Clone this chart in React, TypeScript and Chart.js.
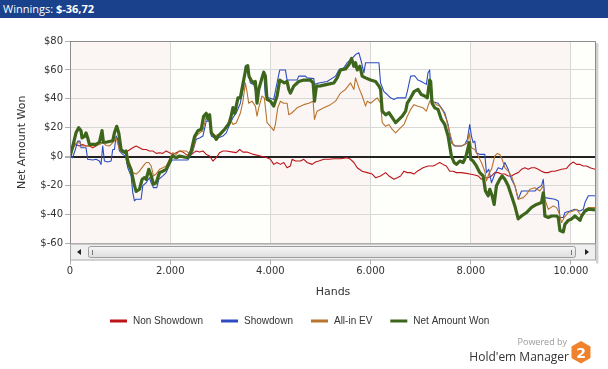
import React, { useEffect, useRef } from "react";
import { Chart, registerables } from "chart.js";

Chart.register(...registerables);

// ---------- DATA ----------
const xTickValues = [0, 2000, 4000, 6000, 8000, 10000];
const yTickValues = [-60, -40, -20, 0, 20, 40, 60, 80];
const handsMax = 10500;
const winningsText = "$-36,72";

const nonShowdownHands = [0, 53, 120, 187, 253, 320, 387, 453, 520, 587, 653, 720, 787, 853, 887, 953, 1020, 1087, 1153, 1253, 1320, 1387, 1453, 1520, 1587, 1653, 1720, 1787, 1853, 1920, 1987, 2053, 2120, 2187, 2253, 2320, 2387, 2453, 2520, 2587, 2653, 2720, 2787, 2853, 2920, 2987, 3053, 3120, 3253, 3320, 3387, 3453, 3533, 3667, 3800, 3933, 4000, 4067, 4133, 4200, 4267, 4333, 4400, 4433, 4500, 4600, 4667, 4733, 4833, 4900, 4967, 5067, 5167, 5267, 5400, 5533, 5600, 5667, 5733, 5833, 5933, 6033, 6100, 6200, 6300, 6367, 6467, 6533, 6600, 6667, 6733, 6800, 6867, 6933, 7000, 7047, 7147, 7247, 7313, 7380, 7447, 7513, 7580, 7647, 7713, 7813, 7913, 7980, 8080, 8147, 8213, 8280, 8347, 8413, 8480, 8547, 8613, 8680, 8747, 8813, 8880, 8947, 9013, 9080, 9147, 9213, 9280, 9347, 9413, 9480, 9547, 9613, 9680, 9813, 9913, 9980, 10047, 10113, 10180, 10247, 10313, 10380, 10480];
const nonShowdownValues = [0, 7.4, 8.5, 7.4, 8.5, 7.4, 7.4, 6.2, 7.4, 9.7, 9.7, 10, 10.8, 10.8, 13, 12, 5, 2.8, 4, 6.2, 7.4, 6.2, 5, 5, 4, 4, 2.3, 2.8, 2.3, 4, 2.8, 1.6, 2.8, 4, 3.2, 1.6, 0.5, 2.3, 4, 3.2, 4, 1.6, 0.5, -3, -0.7, 2.8, 4, 4, 3.2, 2.8, 5, 3.2, 3.2, 1.6, 0.5, -0.7, -1.8, -5.3, -4, -5.3, -4, -7.6, -6.4, -1.8, -3, -3, -1.8, -4, -5.3, -3.7, -3, -1.8, -1.8, -1.4, -1.4, -0.7, -1.8, -4, -7.6, -10, -11, -12, -14.5, -13.3, -11, -13.3, -15.6, -14.5, -13.3, -10, -11, -11, -12, -10, -8.7, -7.6, -6.4, -6.4, -5.3, -4, -5.3, -6.4, -10, -10, -11, -11, -11.5, -12, -12.7, -13.3, -15.6, -14.5, -14.5, -13.3, -11, -11, -12, -12, -13.3, -13.3, -12, -11, -8.7, -7.6, -8.7, -7.6, -7.6, -8.7, -10, -11, -11, -10, -10, -8.7, -8.1, -5.3, -3.7, -5.3, -5.3, -6.4, -6.4, -7.6, -8.7];

const showdownHands = [0, 53, 107, 153, 200, 220, 320, 353, 453, 520, 587, 620, 653, 687, 753, 820, 853, 887, 920, 953, 987, 1053, 1107, 1153, 1220, 1253, 1287, 1320, 1420, 1453, 1520, 1587, 1620, 1667, 1733, 1773, 1853, 1920, 1987, 2040, 2187, 2353, 2400, 2453, 2520, 2587, 2653, 2720, 2787, 2820, 2887, 2953, 3053, 3120, 3187, 3253, 3320, 3400, 3467, 3500, 3547, 3600, 3667, 3733, 3800, 3867, 3900, 3967, 4067, 4133, 4187, 4300, 4333, 4533, 4567, 4700, 4733, 4867, 4880, 4967, 5133, 5300, 5367, 5467, 5533, 5633, 5700, 5767, 5813, 5867, 5900, 6167, 6200, 6267, 6333, 6400, 6467, 6533, 6700, 6733, 6800, 6880, 6947, 7013, 7113, 7147, 7180, 7213, 7347, 7413, 7480, 7547, 7613, 7680, 7813, 7880, 7933, 7980, 8013, 8047, 8080, 8113, 8180, 8280, 8313, 8360, 8413, 8480, 8547, 8627, 8680, 8747, 8813, 8880, 8947, 9013, 9280, 9347, 9413, 9447, 9480, 9680, 9747, 9780, 9847, 9880, 9980, 10080, 10180, 10247, 10280, 10347, 10480];
const showdownValues = [0, -0.7, 5, 10.8, 10.8, 6.2, 6.2, -1.8, -2.3, -1.8, -3, -5.3, 7.4, -3, -3.7, -3, 5, 5, 14.3, 12, 4, 1.6, 0.5, -7.6, -13.3, -24.8, -30.6, -29.4, -29.4, -20, -18, -14.5, -18, -21.4, -21.4, -15.6, -13.3, -11, -5.3, -2.3, -2.3, -2.3, 0.5, 4, 12, 13, 14.3, 24.6, 24.6, 14.3, 13, 13, 14.3, 16.5, 22.3, 27, 30.4, 37, 48.8, 62.5, 60, 51, 50, 42, 50, 58, 42, 40.7, 39.6, 51, 60, 60, 53, 53, 55.7, 55.7, 54.5, 54, 50, 51, 52, 55.7, 60, 61.4, 65, 68, 70.6, 71.8, 66, 58, 65, 65, 51, 45, 43, 40.7, 39.6, 40.7, 40.7, 45, 55.7, 56, 53, 52, 50, 58, 60, 38.4, 37, 33.8, 30.4, 22.3, 9.7, 7.4, 7.4, 8.5, 12, 22.3, 14.3, 9.7, 10.8, 2.8, 1.6, 1.6, -11, -8.7, -18, -12, -7.6, -8.7, -4, -8.7, -15.6, -20, -29.4, -23.7, -23.7, -21.4, -20, -15.6, -28.3, -29.4, -30.6, -42, -42, -38.6, -37.5, -36.3, -37.5, -36.3, -31.7, -27, -27];

const allInEvHands = [0, 53, 120, 187, 253, 387, 520, 587, 653, 720, 787, 853, 920, 987, 1053, 1120, 1187, 1253, 1320, 1387, 1487, 1520, 1573, 1620, 1667, 1720, 1787, 1853, 1920, 1987, 2053, 2120, 2187, 2320, 2400, 2453, 2520, 2587, 2653, 2720, 2787, 2820, 2887, 2953, 3020, 3120, 3187, 3253, 3320, 3400, 3453, 3500, 3533, 3567, 3633, 3700, 3733, 3767, 3833, 3880, 3933, 4000, 4067, 4100, 4147, 4200, 4267, 4333, 4367, 4433, 4533, 4667, 4767, 4853, 4880, 4933, 5067, 5200, 5300, 5400, 5500, 5600, 5667, 5700, 5767, 5833, 5900, 5933, 6000, 6133, 6200, 6233, 6300, 6367, 6433, 6500, 6567, 6667, 6733, 6800, 6867, 6933, 7047, 7113, 7180, 7247, 7313, 7380, 7447, 7513, 7580, 7647, 7713, 7813, 7880, 7933, 7967, 8013, 8080, 8147, 8213, 8280, 8313, 8360, 8413, 8480, 8533, 8580, 8627, 8680, 8747, 8813, 8880, 8947, 9047, 9113, 9180, 9280, 9380, 9447, 9480, 9547, 9647, 9713, 9760, 9813, 9867, 9947, 10047, 10113, 10180, 10247, 10293, 10347, 10480];
const allInEvValues = [0, 5, 9.7, 9.7, 7.4, 7.4, 7.8, 8.5, 9.7, 7.8, 7.4, 9.7, 13, 5, 2.8, 4, -4, -11, -12, -10, -5.3, -4, -4, -6.4, -13.3, -12, -8.7, -7.6, -6.4, -1.8, 2.8, 1.6, 4, 4, 1.6, 4, 14.3, 16.5, 18, 28, 25.8, 18, 14.3, 15.4, 16.5, 20, 27, 22.3, 23.5, 30, 38.4, 51, 45, 37, 38.4, 35, 28, 33.8, 42, 40.7, 23.5, 21, 18, 22.3, 33.8, 38.4, 37, 37, 29, 30.4, 33.8, 36, 37, 38.4, 25.8, 31.5, 33.8, 36, 38.4, 44, 46.5, 51, 46.5, 54.5, 47.6, 42, 35, 38.4, 37, 40.7, 37, 23.5, 21, 22.3, 18.9, 16.5, 18.9, 22.3, 28, 32.7, 36, 35, 33.8, 31.5, 38.4, 38.4, 36, 35, 31.5, 25.8, 16.5, 8.5, 7.4, 7.4, 8.5, 9.7, 16.5, 6.2, 5, 0.5, -4, -10, -16.8, -12, -8.7, 0.5, 2.3, 1.6, -1.8, -7.6, -10, -13.3, -20, -29.4, -28.3, -26, -22.5, -21.4, -23.7, -20, -29.4, -36.3, -34, -35.2, -38.6, -45.5, -42, -38.6, -37.5, -36.3, -39.8, -39.8, -36.3, -35.2, -35.2];

const netWonHands = [0, 53, 120, 173, 220, 240, 287, 320, 353, 387, 520, 587, 640, 667, 720, 853, 887, 933, 973, 1020, 1087, 1120, 1153, 1220, 1287, 1320, 1387, 1440, 1487, 1520, 1573, 1620, 1667, 1720, 1787, 1853, 1920, 1987, 2020, 2053, 2120, 2187, 2253, 2353, 2420, 2487, 2553, 2620, 2667, 2720, 2753, 2787, 2820, 2887, 2920, 2953, 3020, 3087, 3187, 3253, 3287, 3353, 3400, 3467, 3520, 3547, 3573, 3613, 3667, 3700, 3733, 3767, 3833, 3867, 3900, 3933, 4000, 4067, 4133, 4187, 4233, 4280, 4333, 4367, 4400, 4467, 4567, 4667, 4800, 4853, 4880, 4920, 5000, 5133, 5267, 5333, 5400, 5500, 5567, 5620, 5667, 5700, 5733, 5787, 5833, 5900, 6000, 6100, 6167, 6200, 6233, 6300, 6367, 6433, 6500, 6567, 6633, 6700, 6733, 6800, 6867, 6947, 7013, 7080, 7133, 7180, 7200, 7227, 7280, 7347, 7413, 7480, 7547, 7613, 7667, 7713, 7780, 7847, 7880, 7913, 7947, 7967, 8000, 8047, 8113, 8180, 8247, 8293, 8347, 8380, 8427, 8467, 8513, 8580, 8627, 8680, 8747, 8813, 8880, 8947, 9013, 9113, 9213, 9313, 9413, 9447, 9480, 9547, 9613, 9713, 9747, 9780, 9847, 9880, 9947, 10013, 10080, 10147, 10180, 10213, 10280, 10347, 10480];
const netWonValues = [0, 7, 16.5, 20, 18, 13, 14, 16.5, 13, 8.5, 8.5, 10, 18, 10, 10, 11, 16.5, 21, 16.5, 5, 3, 4, -4, -9, -20, -24, -22.5, -15.6, -14.5, -15.6, -8.7, -13, -19, -18, -11, -10, -8.7, -4, -0.7, 0.5, -0.7, 0.5, 0, -0.7, 4, 14, 18, 19, 28, 30, 26, 29, 16.5, 14, 12, 14, 16.5, 19, 23.5, 34, 30, 40.7, 40.7, 53, 62.5, 63, 55.7, 53, 51, 52, 37, 46.5, 54.5, 58.4, 55.7, 39.6, 38.4, 35, 41.9, 53, 52, 51, 52, 46.5, 44, 48.8, 52, 53, 53, 51, 38.4, 48.8, 49, 50, 51, 54.5, 60, 60.7, 63.7, 68, 62.5, 65, 60, 62.5, 55.7, 54.5, 53, 52, 48.8, 46.5, 31.5, 29, 30.4, 27, 23.5, 25.8, 28, 31.5, 37, 40.7, 45, 46.5, 43, 42, 40.7, 53, 52, 37, 33.8, 32.7, 25.8, 22.3, 14.3, 0.5, -4, -5.3, -3, -4, -1.8, 1.6, 6.2, 9.7, -1.8, -3, -6.4, -11, -13.3, -23.7, -27, -22.5, -27, -33, -20, -15.6, -13.3, -15.6, -20, -27, -34, -43, -41, -38.6, -35, -33, -31.7, -25, -41, -42, -41, -41, -42, -51, -52, -46.7, -44, -43, -41, -43, -44, -41, -37.5, -36.3, -36.7];

const seriesLabels = ["Non Showdown", "Showdown", "All-in EV", "Net Amount Won"];
const seriesColors = ["#bc1419", "#2b4dc0", "#b8732f", "#3d661c"];

// ---------- HELPERS ----------
const toPoints = (hands: number[], values: number[]) =>
  hands.map((h, i) => ({ x: h, y: values[i] }));

const fmtHands = (v: number) =>
  v >= 1000 ? `${Math.floor(v / 1000)}.${String(v % 1000).padStart(3, "0")}` : String(v);

const bandsPlugin = {
  id: "bands",
  beforeDraw(chart: any) {
    const { ctx, chartArea, scales } = chart;
    const x = scales.x;
    const edges = [...xTickValues, x.max];
    ctx.save();
    for (let i = 0; i < edges.length - 1; i++) {
      const x0 = x.getPixelForValue(edges[i]);
      const x1 = x.getPixelForValue(edges[i + 1]);
      ctx.fillStyle = i % 2 === 0 ? "#fbf6f4" : "#fefefa";
      ctx.fillRect(x0, chartArea.top, x1 - x0, chartArea.bottom - chartArea.top);
    }
    ctx.restore();
  },
};

const framePlugin = {
  id: "frame",
  afterDraw(chart: any) {
    const { ctx, chartArea } = chart;
    const { left, top, right, bottom } = chartArea;
    ctx.save();
    // shadow on the right
    ctx.fillStyle = "rgba(0,0,0,0.18)";
    ctx.fillRect(right, top + 2, 2, bottom - top + 18);
    ctx.fillStyle = "rgba(0,0,0,0.08)";
    ctx.fillRect(right + 2, top + 3, 1, bottom - top + 17);
    // frame
    ctx.strokeStyle = "#8c8c8c";
    ctx.lineWidth = 1;
    ctx.strokeRect(left + 0.5, top + 0.5, right - left - 1, bottom - top);
    // scrollbar
    const sy = bottom + 0.5;
    const sh = 16;
    ctx.fillStyle = "#efefef";
    ctx.fillRect(left, sy, right - left, sh);
    ctx.strokeStyle = "#a8a8a8";
    ctx.strokeRect(left + 0.5, sy, right - left - 1, sh);
    // left arrow
    ctx.fillStyle = "#222";
    ctx.beginPath();
    ctx.moveTo(left + 7, sy + 8);
    ctx.lineTo(left + 11, sy + 5);
    ctx.lineTo(left + 11, sy + 11);
    ctx.closePath();
    ctx.fill();
    // right arrow
    ctx.beginPath();
    ctx.moveTo(right - 11, sy + 5);
    ctx.lineTo(right - 11, sy + 11);
    ctx.lineTo(right - 7, sy + 8);
    ctx.closePath();
    ctx.fill();
    // thumb
    const tx0 = left + 18.5;
    const tx1 = right - 20.5;
    const g = ctx.createLinearGradient(0, sy + 2, 0, sy + 14);
    g.addColorStop(0, "#f7f7f7");
    g.addColorStop(1, "#dcdcdc");
    ctx.fillStyle = g;
    ctx.strokeStyle = "#9c9c9c";
    ctx.beginPath();
    (ctx as any).roundRect(tx0, sy + 2.5, tx1 - tx0, 11, 2);
    ctx.fill();
    ctx.stroke();
    ctx.strokeStyle = "#777";
    ctx.beginPath();
    ctx.moveTo(tx0 + 4, sy + 6);
    ctx.lineTo(tx0 + 4, sy + 11);
    ctx.moveTo(tx1 - 4, sy + 6);
    ctx.lineTo(tx1 - 4, sy + 11);
    ctx.stroke();
    ctx.restore();
  },
};

const legendPlugin = {
  id: "customLegend",
  afterDraw(chart: any) {
    const { ctx } = chart;
    ctx.save();
    ctx.font = '10px "Liberation Sans", Arial, sans-serif';
    ctx.textBaseline = "middle";
    let xPos = 110;
    const yc = 321;
    chart.data.datasets.forEach((ds: any) => {
      ctx.fillStyle = ds.borderColor;
      ctx.fillRect(xPos, yc - 1.5, 17, 3);
      xPos += 23;
      ctx.fillStyle = "#333";
      ctx.fillText(ds.label, xPos, yc);
      xPos += ctx.measureText(ds.label).width + 18;
    });
    ctx.restore();
  },
};

export default function App() {
  const canvasRef = useRef<HTMLCanvasElement | null>(null);

  useEffect(() => {
    document.body.style.margin = "0";
    const canvas = canvasRef.current;
    if (!canvas) return;
    const hands = [nonShowdownHands, showdownHands, allInEvHands, netWonHands];
    const values = [nonShowdownValues, showdownValues, allInEvValues, netWonValues];
    const drawOrder = [3, 2, 1, 0];
    const tickFont = { family: '"DejaVu Sans", Verdana, sans-serif', size: 10 };
    const titleFont = { family: '"DejaVu Sans", Verdana, sans-serif', size: 11 };
    const chart = new Chart(canvas, {
      type: "line",
      data: {
        datasets: seriesLabels.map((label, i) => ({
          label,
          data: toPoints(hands[i], values[i]),
          borderColor: seriesColors[i],
          backgroundColor: seriesColors[i],
          borderWidth: i === 3 ? 3.2 : 1.1,
          pointRadius: 0,
          tension: 0,
          fill: false,
          order: drawOrder[i],
          borderJoinStyle: "round",
        })),
      },
      options: {
        animation: false,
        responsive: false,
        devicePixelRatio: 1,
        layout: { padding: { left: 0, top: 41, right: 12, bottom: 65.5 } },
        plugins: { legend: { display: false }, tooltip: { enabled: false } },
        scales: {
          x: {
            type: "linear",
            min: 0,
            max: handsMax,
            afterBuildTicks: (s: any) => {
              s.ticks = xTickValues.map((v) => ({ value: v }));
            },
            afterFit: (s: any) => {
              s.height = 60;
            },
            ticks: {
              callback: (v: any) => fmtHands(Number(v)),
              font: tickFont,
              color: "#333",
              padding: 1,
              maxRotation: 0,
              autoSkip: false,
            },
            grid: { color: "#d8d8d8", tickLength: 21, tickColor: "#b0b0b0" },
            border: { display: false },
            title: {
              display: true,
              text: "Hands",
              font: titleFont,
              color: "#333",
              padding: { top: 0, bottom: 5 },
            },
          },
          y: {
            min: -60,
            max: 80,
            afterBuildTicks: (s: any) => {
              s.ticks = yTickValues.map((v) => ({ value: v }));
            },
            afterFit: (s: any) => {
              s.width = 70;
            },
            ticks: {
              callback: (v: any) => "$" + v,
              font: tickFont,
              color: "#333",
              padding: 2,
            },
            grid: {
              color: (c: any) => (c.tick && c.tick.value === 0 ? "#222" : "#d8d8d8"),
              lineWidth: (c: any) => (c.tick && c.tick.value === 0 ? 2 : 1),
              tickLength: 5,
              tickColor: "#b0b0b0",
            },
            border: { display: false },
            title: {
              display: true,
              text: "Net Amount Won",
              font: titleFont,
              color: "#333",
              padding: { top: 16, bottom: 0 },
            },
          },
        },
      } as any,
      plugins: [bandsPlugin, framePlugin, legendPlugin],
    });
    return () => chart.destroy();
  }, []);

  return (
    <div
      style={{
        position: "fixed",
        left: 0,
        top: 0,
        width: 608,
        height: 369,
        background: "#fff",
        overflow: "hidden",
      }}
    >
      <canvas
        ref={canvasRef}
        width={608}
        height={369}
        style={{ position: "absolute", left: 0, top: 0, width: 608, height: 369 }}
      />
      <div
        style={{
          position: "absolute",
          left: 0,
          top: 0,
          width: 608,
          height: 18,
          background: "#1a418b",
          color: "#fff",
          fontFamily: '"Open Sans", sans-serif',
          fontSize: 11,
          lineHeight: "18px",
          paddingLeft: 3,
          boxSizing: "border-box",
          whiteSpace: "nowrap",
        }}
      >
        Winnings: <b>{winningsText}</b>
      </div>
      <div
        style={{
          position: "absolute",
          right: 41,
          top: 336,
          fontFamily: '"Open Sans", sans-serif',
          fontSize: 9,
          color: "#9b9b9b",
          lineHeight: "12px",
        }}
      >
        Powered by
      </div>
      <div
        style={{
          position: "absolute",
          right: 39,
          top: 348,
          fontFamily: '"Open Sans", sans-serif',
          fontSize: 12,
          color: "#333",
          lineHeight: "17px",
          whiteSpace: "nowrap",
        }}
      >
        Hold'em Manager
      </div>
      <svg
        style={{ position: "absolute", left: 571, top: 341 }}
        width={20}
        height={23}
        viewBox="0 0 20 23"
      >
        <polygon points="10,0 19.5,5.5 19.5,17 10,22.5 0.5,17 0.5,5.5" fill="#f0822e" />
        <text
          x="10"
          y="16.5"
          textAnchor="middle"
          fontFamily='"DejaVu Sans", sans-serif'
          fontWeight="bold"
          fontSize="14"
          fill="#fff"
        >
          2
        </text>
      </svg>
    </div>
  );
}
